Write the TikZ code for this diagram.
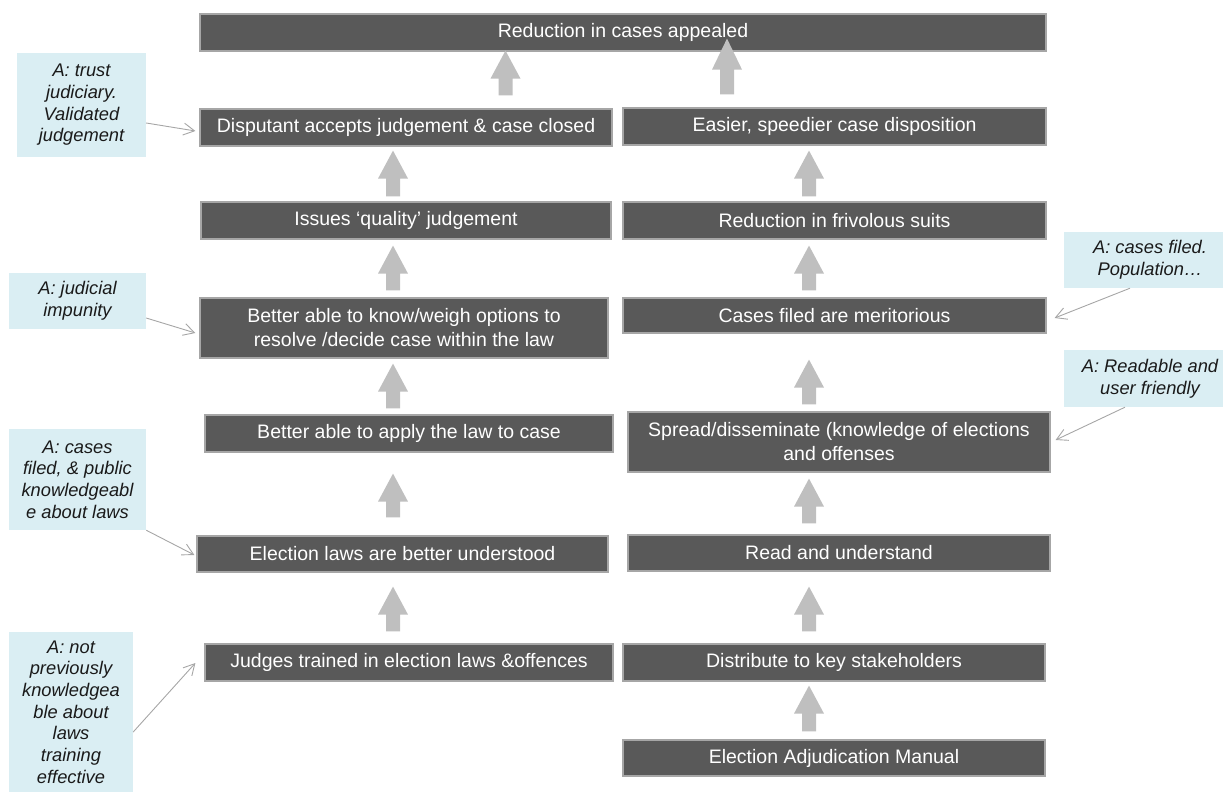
\documentclass[tikz,border=0pt]{standalone}
\usepackage{fontspec}
\setmainfont{Liberation Sans}
\usetikzlibrary{calc,arrows.meta}

\definecolor{boxfill}{HTML}{595959}
\definecolor{boxline}{HTML}{A6A6A6}
\definecolor{notefill}{HTML}{DAEEF3}
\definecolor{arrowgray}{HTML}{BFBFBF}
\definecolor{linkgray}{HTML}{A6A6A6}
\definecolor{notetext}{HTML}{1A1A1A}

\tikzset{
  outcome/.style={rectangle, fill=boxfill, draw=boxline, line width=1.2pt,
    text=white, font=\fontsize{19.5}{24}\selectfont, align=center, inner sep=0pt},
  note/.style={rectangle, fill=notefill, draw=none, text=notetext,
    font=\fontsize{18.3}{21.7}\selectfont\itshape, align=center, inner sep=0pt},
  link/.style={draw=linkgray, line width=0.9pt,
    -{Straight Barb[length=11pt,width=12pt]}},
  blockfill/.style={fill=arrowgray, draw=none},
}

% thick upward block arrow: #1 x position, #2 lower node, #3 upper node,
% #4 gap below the upper node, #5 gap above the lower node, #6 head length
\newcommand\blockarrow[6]{%
  \coordinate (ba-t) at ($(#1,0 |- #3.south)+(0,#4)$);
  \coordinate (ba-b) at ($(#1,0 |- #2.north)+(0,-#5)$);
  \fill[blockfill] (ba-t) -- ($(ba-t)+(15,#6)$) -- ($(ba-t)+(7,#6)$)
    -- ($(ba-b)+(7,0)$) -- ($(ba-b)+(-7,0)$) -- ($(ba-t)+(-7,#6)$)
    -- ($(ba-t)+(-15,#6)$) -- cycle;
}

\begin{document}
\begin{tikzpicture}[x=1pt,y=-1pt]
\useasboundingbox (0,0) rectangle (1223,792);

% outcome chain boxes
\node[outcome, minimum width=846pt, minimum height=37pt] (L1) at (623,32.5) {Reduction in cases appealed};
\node[outcome, minimum width=412pt, minimum height=37pt] (L2) at (406,127.5) {Disputant accepts judgement \& case closed};
\node[outcome, minimum width=423pt, minimum height=37pt] (R2) at (834.5,126.5) {Easier, speedier case disposition};
\node[outcome, minimum width=410pt, minimum height=37pt] (L3) at (406,220.5) {Issues ‘quality’ judgement};
\node[outcome, minimum width=423pt, minimum height=37pt] (R3) at (834.5,220.5) {Reduction in frivolous suits};
\node[outcome, minimum width=408pt, minimum height=60pt] (L4) at (404,328) {Better able to know/weigh options to\\resolve /decide case within the law};
\node[outcome, minimum width=423pt, minimum height=35pt] (R4) at (834.5,315.5) {Cases filed are meritorious};
\node[outcome, minimum width=408pt, minimum height=37pt] (L5) at (409,433.5) {Better able to apply the law to case};
\node[outcome, minimum width=422pt, minimum height=60pt] (R5) at (839,442) {Spread/disseminate (knowledge of elections\\and offenses};
\node[outcome, minimum width=411pt, minimum height=36pt] (L6) at (402.5,554) {Election laws are better understood};
\node[outcome, minimum width=422pt, minimum height=36pt] (R6) at (839,553) {Read and understand};
\node[outcome, minimum width=408pt, minimum height=37pt] (L7) at (409,662.5) {Judges trained in election laws \&offences};
\node[outcome, minimum width=422pt, minimum height=37pt] (R7) at (834,662.5) {Distribute to key stakeholders};
\node[outcome, minimum width=422pt, minimum height=36pt] (R8) at (834,758) {Election Adjudication Manual};

% assumption notes
\node[note, minimum width=129pt, minimum height=104pt] (A1) at (81.5,105) {A: trust\\judiciary.\\Validated\\judgement};
\node[note, minimum width=137pt, minimum height=56pt] (A2) at (77.5,301) {A: judicial\\impunity};
\node[note, minimum width=137pt, minimum height=101pt] (A3) at (77.5,479.5) {A: cases\\filed, \& public\\knowledgeabl\\e about laws};
\node[note, minimum width=124pt, minimum height=160pt] (A4) at (71,712) {A: not\\previously\\knowledgea\\ble about\\laws\\training\\effective};
\node[note, minimum width=173pt, minimum height=56pt] (A5) at (1150,260) {A: cases filed.\\Population…};
\node[note, minimum width=173pt, minimum height=57pt] (A6) at (1150,378.5) {A: Readable and\\user friendly};

% block arrows up the chain
\blockarrow{505.5}{L2}{L1}{-1}{13}{28}
\blockarrow{727}{R2}{L1}{-13}{13}{31}
\blockarrow{393}{L3}{L2}{4}{5}{28}
\blockarrow{393}{L4}{L3}{6}{7}{28}
\blockarrow{393}{L5}{L4}{5}{6}{28}
\blockarrow{393}{L6}{L5}{21}{18}{28}
\blockarrow{393}{L7}{L6}{14}{12}{28}
\blockarrow{809}{R3}{R2}{5}{5}{28}
\blockarrow{809}{R4}{R3}{6}{7}{28}
\blockarrow{809}{R5}{R4}{26}{7}{28}
\blockarrow{809}{R6}{R5}{6}{11}{28}
\blockarrow{809}{R7}{R6}{15}{12}{28}
\blockarrow{809}{R8}{R7}{4}{8}{28}

% assumption links
\draw[link] ($(A1.east)+(0,18)$) -- ($(L2.west)+(-4,3.5)$);
\draw[link] ($(A2.east)+(0,17)$) -- ($(L4.west)+(-4,5)$);
\draw[link] (A3.south east) -- ($(L6.west)+(-2,1)$);
\draw[link] ($(A4.east)+(0,20)$) -- ($(L7.west)+(-9,0.5)$);
\draw[link] ($(A5.south)+(-20,0)$) -- ($(R4.east)+(8,2.5)$);
\draw[link] ($(A6.south)+(-25,0)$) -- ($(R5.east)+(5,-2)$);
\end{tikzpicture}
\end{document}
